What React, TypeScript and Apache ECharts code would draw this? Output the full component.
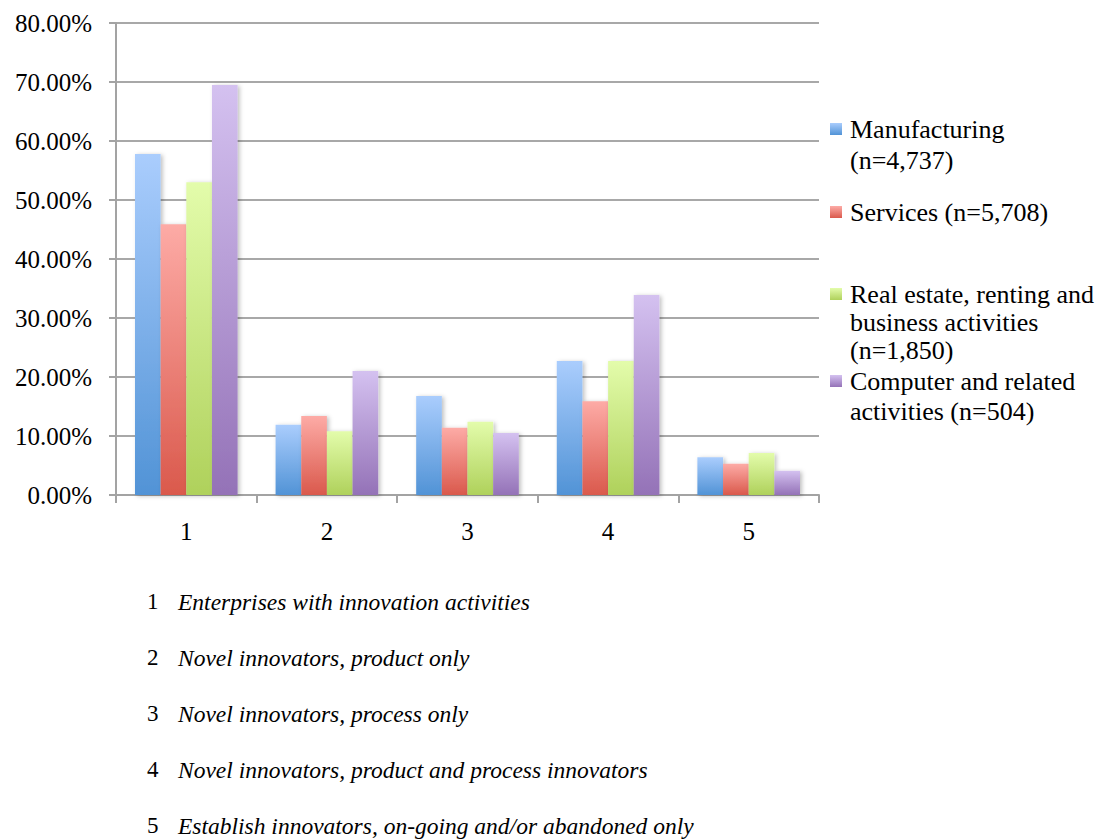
import React, { useEffect, useRef } from "react";
import * as echarts from "echarts";

const categories = ["1", "2", "3", "4", "5"];
const seriesNames = [
  "Manufacturing (n=4,737)",
  "Services (n=5,708)",
  "Real estate, renting and business activities (n=1,850)",
  "Computer and related activities (n=504)",
];
const legendLabels = [
  "Manufacturing\n(n=4,737)",
  "Services (n=5,708)",
  "Real estate, renting and\nbusiness activities\n(n=1,850)",
  "Computer and related\nactivities (n=504)",
];
const manufacturing = [57.8, 11.9, 16.8, 22.7, 6.4];
const services = [45.9, 13.4, 11.4, 15.9, 5.3];
const realEstate = [53.0, 10.8, 12.4, 22.7, 7.1];
const computer = [69.5, 21.0, 10.5, 33.9, 4.1];
const seriesValues = [manufacturing, services, realEstate, computer];
const notes = [
  "Enterprises with innovation activities",
  "Novel innovators, product only",
  "Novel innovators, process only",
  "Novel innovators, product and process innovators",
  "Establish innovators, on-going and/or abandoned only",
];

const gradients = [
  ["#aacdfd", "#5193d6"],
  ["#fdaba6", "#da594c"],
  ["#e3fcab", "#afd15b"],
  ["#d4c1f0", "#9472b7"],
];

const FONT = "Liberation Serif";

export default function App() {
  const ref = useRef<HTMLDivElement>(null);
  useEffect(() => {
    document.body.style.margin = "0";
    const chart = echarts.init(ref.current!, undefined, { renderer: "svg" });
    const lineHeights = [31, 30, 28, 30];
    const centers = [129, 212, 294, 381];
    const legends = legendLabels.map((lab, i) => {
      const n = lab.split("\n").length;
      const L = lineHeights[i];
      const H = (2 * n - 1) * L;
      return {
        data: [seriesNames[i]],
        left: 830,
        top: centers[i] - H / 2,
        padding: 0,
        itemWidth: 12,
        itemHeight: 12,
        itemGap: 0,
        icon: "rect",
        formatter: () => "\n".repeat(n - 1) + lab,
        textStyle: {
          fontFamily: FONT,
          fontSize: 26,
          color: "#000",
          lineHeight: L,
          padding: [0, 0, 0, 3],
        },
      };
    });
    const graphics: any[] = [];
    notes.forEach((t, i) => {
      const y = 602 + i * 56;
      graphics.push({
        type: "text",
        left: 147,
        top: y - 12,
        style: { text: categories[i], font: `23px ${FONT}`, fill: "#000" },
      });
      graphics.push({
        type: "text",
        left: 178,
        top: y - 12,
        style: { text: t, font: `italic 23.5px ${FONT}`, fill: "#000" },
      });
    });
    chart.setOption({
      animation: false,
      grid: { left: 116, top: 23, right: 286, bottom: 344, containLabel: false },
      legend: legends,
      xAxis: {
        type: "category",
        data: categories,
        axisLine: { lineStyle: { color: "#a3a3a3", width: 2 } },
        axisTick: { show: true, length: 8, lineStyle: { color: "#a3a3a3", width: 2 } },
        axisLabel: { fontFamily: FONT, fontSize: 25, color: "#000", margin: 24 },
      },
      yAxis: {
        type: "value",
        min: 0,
        max: 80,
        interval: 10,
        axisLine: { show: true, lineStyle: { color: "#a3a3a3", width: 2 } },
        axisTick: { show: true, length: 7, lineStyle: { color: "#a3a3a3", width: 2 } },
        splitLine: { lineStyle: { color: "#a8a8a8", width: 2 } },
        axisLabel: {
          fontFamily: FONT,
          fontSize: 25,
          color: "#000",
          margin: 24,
          formatter: (v: number) => v.toFixed(2) + "%",
        },
      },
      series: seriesValues.map((vals, i) => ({
        type: "bar",
        name: seriesNames[i],
        data: vals,
        barGap: "0%",
        barCategoryGap: "27%",
        itemStyle: {
          color: new echarts.graphic.LinearGradient(0, 0, 0, 1, [
            { offset: 0, color: gradients[i][0] },
            { offset: 1, color: gradients[i][1] },
          ]),
          shadowColor: "rgba(0,0,0,0.25)",
          shadowBlur: 4,
          shadowOffsetX: 2,
          shadowOffsetY: 1,
        },
      })),
      graphic: graphics,
    });
    return () => chart.dispose();
  }, []);
  return <div ref={ref} style={{ width: 1105, height: 839 }} />;
}
